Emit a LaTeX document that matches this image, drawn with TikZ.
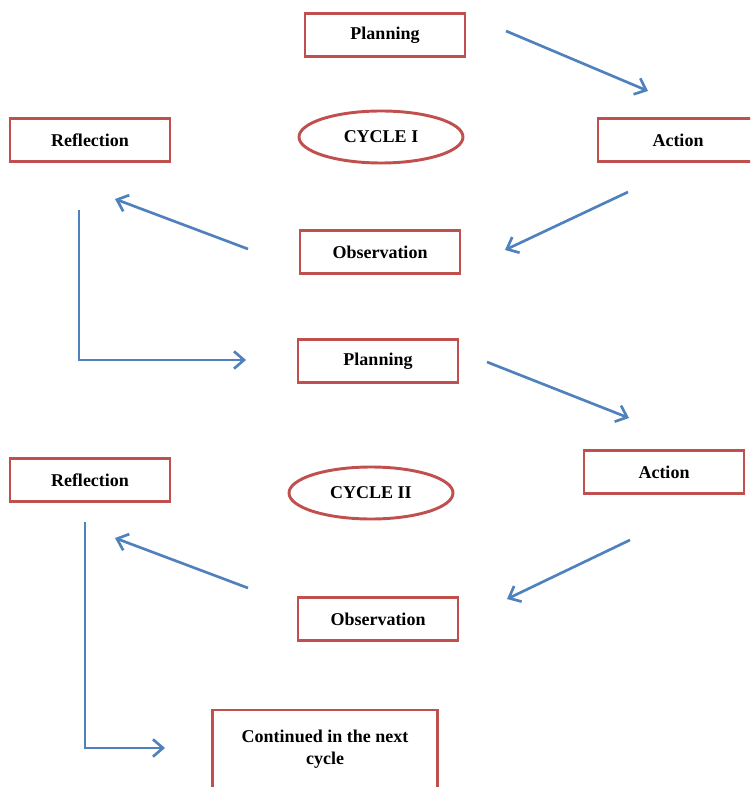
\documentclass[tikz,border=0pt]{standalone}
\usepackage{fontspec}
\setmainfont{Liberation Serif}
\usetikzlibrary{arrows.meta,shapes.geometric}
\definecolor{boxred}{RGB}{192,80,77}
\definecolor{arrblue}{RGB}{79,129,189}
\begin{document}
\begin{tikzpicture}[x=0.75pt,y=-0.75pt,
  stagebox/.style={draw=boxred,line width=2.2pt,minimum width=120pt,minimum height=32pt,inner sep=2pt,font=\fontsize{13.5}{16.5}\selectfont\bfseries,align=center},
  cyclebox/.style={ellipse,draw=boxred,line width=2.2pt,minimum width=123pt,minimum height=39pt,inner sep=0pt,font=\fontsize{13.5}{16}\selectfont\bfseries},
  flow/.style={draw=arrblue,line width=2pt,-{Straight Barb[length=7.5pt,width=13pt,line width=2pt]}}]
\useasboundingbox (0,0) rectangle (750,787);
\clip (0,0) rectangle (750,787);
% nodes
\node[stagebox] (plan1) at (385,35) {Planning};
\node[stagebox] (act1) at (678,140) {Action};
\node[stagebox] (ref1) at (90,140) {Reflection};
\node[cyclebox] (cyc1) at (381,137) {CYCLE I};
\node[stagebox] (obs1) at (380,252) {Observation};
\node[stagebox] (plan2) at (378,361) {Planning};
\node[stagebox] (act2) at (664,472) {Action};
\node[stagebox] (ref2) at (90,480) {Reflection};
\node[cyclebox] (cyc2) at (371,493) {CYCLE II};
\node[stagebox] (obs2) at (378,619) {Observation};
\node[stagebox,minimum width=169pt,minimum height=72pt,text depth=16pt] (next) at (325,758) {Continued in the next\\cycle};
% arrow endpoints
\coordinate (a1s) at (506,31); \coordinate (a1e) at (648,91);
\coordinate (a2s) at (628,192); \coordinate (a2e) at (505,250);
\coordinate (a3s) at (248,249); \coordinate (a3e) at (115,199);
\coordinate (a4s) at (79,210); \coordinate (a4c) at (79,360); \coordinate (a4e) at (246,360);
\coordinate (a5s) at (487,362); \coordinate (a5e) at (629,418);
\coordinate (a6s) at (630,540); \coordinate (a6e) at (507,599);
\coordinate (a7s) at (248,588); \coordinate (a7e) at (115,538);
\coordinate (a8s) at (85,522); \coordinate (a8c) at (85,748); \coordinate (a8e) at (165,748);
% connectors
\draw[flow] (a1s) -- (a1e);
\draw[flow] (a2s) -- (a2e);
\draw[flow] (a3s) -- (a3e);
\draw[flow] (a4s) -- (a4c) -- (a4e);
\draw[flow] (a5s) -- (a5e);
\draw[flow] (a6s) -- (a6e);
\draw[flow] (a7s) -- (a7e);
\draw[flow] (a8s) -- (a8c) -- (a8e);
\end{tikzpicture}
\end{document}
